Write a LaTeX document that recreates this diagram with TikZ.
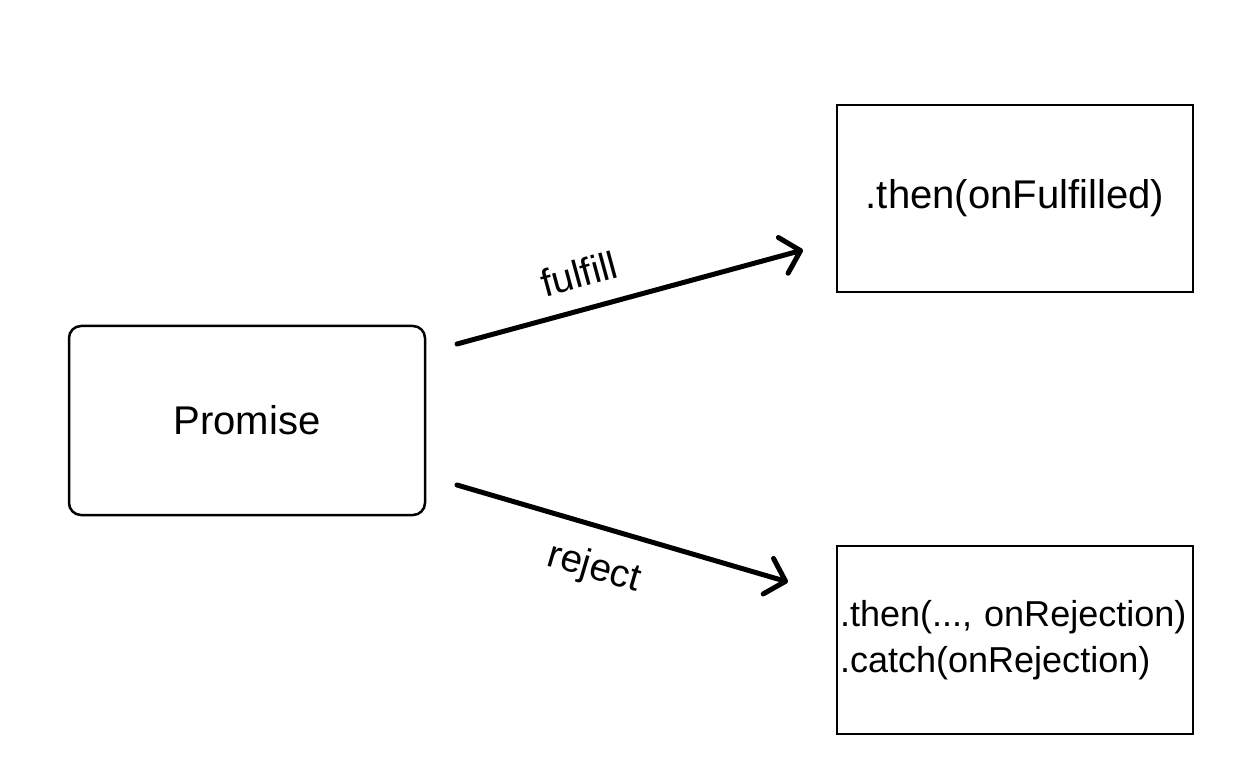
\documentclass[tikz,border=0pt]{standalone}
\usepackage{fontspec}
\setmainfont{Liberation Sans}
\usetikzlibrary{arrows.meta}

\begin{document}
\begin{tikzpicture}[
	state/.style={draw, line width=0.05cm, minimum width=7.12cm, inner sep=0.06cm, outer sep=0pt, font=\fontsize{22.8}{27}\selectfont},
	handler/.style={state, minimum height=3.76cm},
	flow/.style={line width=0.1cm, line cap=round, -{Straight Barb[length=0.36cm, width=0.74cm, line cap=round, line join=round]}},
	flowlabel/.style={sloped, inner sep=0pt, font=\fontsize{22}{26}\selectfont}
	]
	\useasboundingbox (0,0) rectangle (24.8,15.12);

	\node[state, rounded corners=0.24cm, minimum height=3.78cm] (promise) at (4.94, 6.71) {Promise};
	\node[handler, minimum height=3.74cm] (onfulfilled) at (20.3, 11.15) {.then(onFulfilled)};
	\node[handler, text width=7.0cm, align=left, font=\fontsize{20.5}{26.2}\selectfont] (onrejected) at (20.3, 2.32) {.then(..., onRejection)\\.catch(onRejection)};

	% Transitions
	\draw[flow] ([shift={(0.64,1.53)}]promise.east) -- node[flowlabel, above=0.38cm, pos=0.38] {fulfill} ([shift={(-0.68,-1.03)}]onfulfilled.west);
	\draw[flow] ([shift={(0.64,-1.29)}]promise.east) -- node[flowlabel, below=0.43cm, pos=0.45] {reject} ([shift={(-0.98,1.16)}]onrejected.west);
\end{tikzpicture}
\end{document}
